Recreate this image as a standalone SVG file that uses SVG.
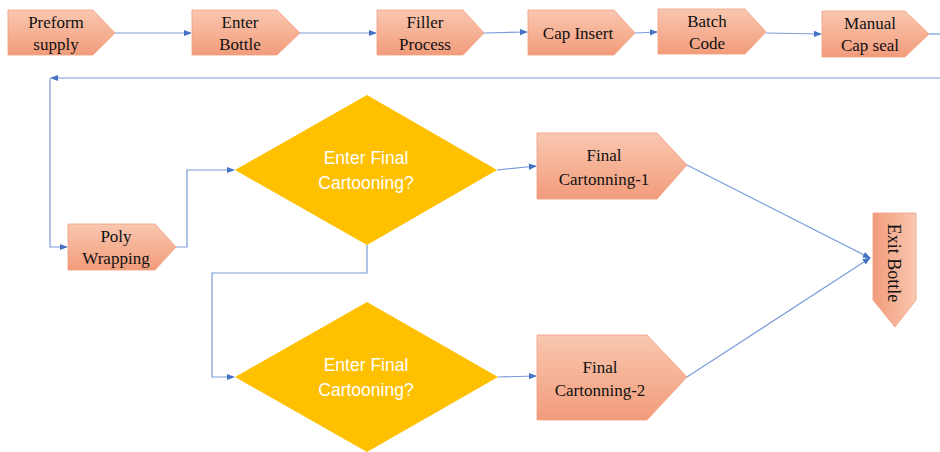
<svg xmlns="http://www.w3.org/2000/svg" width="940" height="452" viewBox="0 0 940 452">
<defs>
<linearGradient id="gv" x1="0" y1="0" x2="0" y2="1">
<stop offset="0" stop-color="#F9C7B0"/>
<stop offset="1" stop-color="#F29C7B"/>
</linearGradient>
<linearGradient id="gh" x1="0" y1="0" x2="1" y2="0">
<stop offset="0" stop-color="#F29C7B"/>
<stop offset="1" stop-color="#F9C7B0"/>
</linearGradient>
<marker id="ah" viewBox="0 0 10 10" refX="9" refY="5" markerWidth="8" markerHeight="8" markerUnits="userSpaceOnUse" orient="auto">
<path d="M0,1 L10,5 L0,9 z" fill="#4472C4"/>
</marker>
<style>
.box{fill:url(#gv);stroke:#F0A080;stroke-width:0.8}
.dia{fill:#FFC000}
.t{font-family:"Liberation Serif","Times New Roman",serif;font-size:17px;fill:#111;text-anchor:middle}
.dt{font-family:"Liberation Sans",Arial,sans-serif;font-size:17.5px;fill:#FFFFFF;text-anchor:middle}
.c{fill:none;stroke:#7A9BD8;stroke-width:1.2}
</style>
</defs>
<rect width="940" height="452" fill="#FFFFFF"/>
<g id="connectors">
<path class="c" d="M115,33 L191,33" marker-end="url(#ah)"/>
<path class="c" d="M300,33 L376,33" marker-end="url(#ah)"/>
<path class="c" d="M484,33 L527,32" marker-end="url(#ah)"/>
<path class="c" d="M635,33 L657,32" marker-end="url(#ah)"/>
<path class="c" d="M766,33 L821,34" marker-end="url(#ah)"/>
<path class="c" d="M929,34 L940,34"/>
<path class="c" d="M940,78 L51,78" marker-end="url(#ah)"/>
<path class="c" d="M50,78 L50,247 L67,247" marker-end="url(#ah)"/>
<path class="c" d="M176,247 L187,247 L187,170 L234,170" marker-end="url(#ah)"/>
<path class="c" d="M367,245 L367,273 L212,273 L212,377 L234,377" marker-end="url(#ah)"/>
<path class="c" d="M497,170 L536,166" marker-end="url(#ah)"/>
<path class="c" d="M498,377 L536,376" marker-end="url(#ah)"/>
<path class="c" d="M687,165 L870,258" marker-end="url(#ah)"/>
<path class="c" d="M687,377 L870,258" marker-end="url(#ah)"/>
</g>
<g id="preform">
<path class="box" d="M8,10 L93,10 L115,33 L93,55 L8,55 z"/>
<text class="t" x="56" y="28">Preform</text>
<text class="t" x="56" y="50">supply</text>
</g>
<g id="enter-bottle">
<path class="box" d="M192,10 L277,10 L300,33 L277,55 L192,55 z"/>
<text class="t" x="240" y="28">Enter</text>
<text class="t" x="240" y="50">Bottle</text>
</g>
<g id="filler">
<path class="box" d="M377,10 L463,10 L484,33 L463,55 L377,55 z"/>
<text class="t" x="425" y="28">Filler</text>
<text class="t" x="425" y="50">Process</text>
</g>
<g id="cap-insert">
<path class="box" d="M528,10 L614,10 L635,33 L614,55 L528,55 z"/>
<text class="t" x="578" y="39">Cap Insert</text>
</g>
<g id="batch-code">
<path class="box" d="M658,9 L745,9 L766,32 L745,54 L658,54 z"/>
<text class="t" x="707" y="27">Batch</text>
<text class="t" x="707" y="49">Code</text>
</g>
<g id="manual-cap">
<path class="box" d="M822,11 L905,11 L929,34 L905,57 L822,57 z"/>
<text class="t" x="870" y="29">Manual</text>
<text class="t" x="870" y="51">Cap seal</text>
</g>
<g id="poly">
<path class="box" d="M68,224 L155,224 L176,247 L155,270 L68,270 z"/>
<text class="t" x="116" y="242">Poly</text>
<text class="t" x="116" y="264">Wrapping</text>
</g>
<g id="decision1">
<path class="dia" d="M235,170 L367,95 L497,170 L367,245 z"/>
<text class="dt" x="366" y="164">Enter Final</text>
<text class="dt" x="366" y="189">Cartooning?</text>
</g>
<g id="decision2">
<path class="dia" d="M235,377 L367,302 L498,377 L367,452 z"/>
<text class="dt" x="366" y="371">Enter Final</text>
<text class="dt" x="366" y="396">Cartooning?</text>
</g>
<g id="final1">
<path class="box" d="M537,133 L657,133 L687,165 L657,199 L537,199 z"/>
<text class="t" x="604" y="161">Final</text>
<text class="t" x="604" y="185">Cartonning-1</text>
</g>
<g id="final2">
<path class="box" d="M537,335 L647,335 L687,377 L647,420 L537,420 z"/>
<text class="t" x="600" y="373">Final</text>
<text class="t" x="600" y="396">Cartonning-2</text>
</g>
<g id="exit-bottle">
<path d="M873,213 L916,213 L916,300 L895,327 L873,300 z" fill="url(#gh)" stroke="#F0A080" stroke-width="0.8"/>
<text class="t" style="font-size:18px" transform="translate(888,263) rotate(90)" x="0" y="0">Exit Bottle</text>
</g>
</svg>
